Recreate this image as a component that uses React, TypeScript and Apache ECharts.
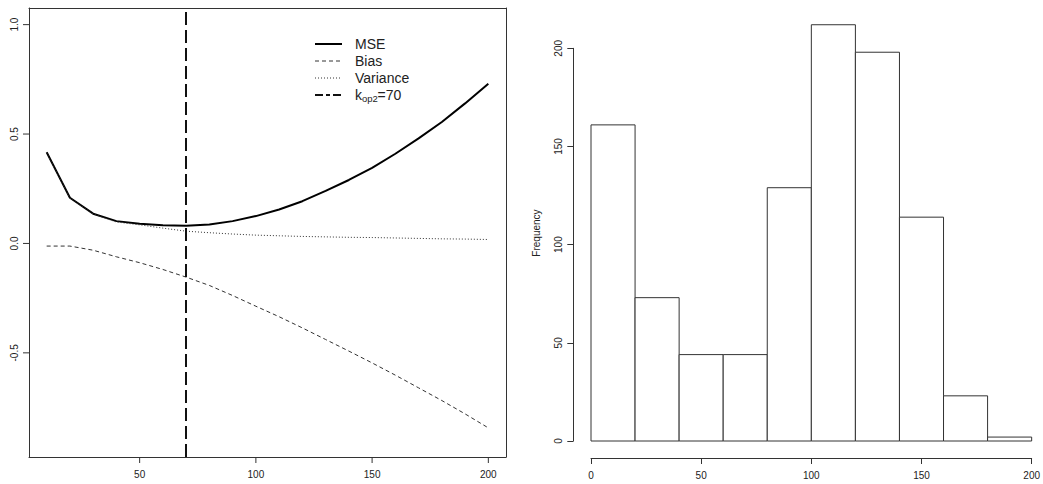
import React, { useEffect, useRef } from "react";
import * as echarts from "echarts";

const kValues = [10, 20, 30, 40, 50, 60, 70, 80, 90, 100, 110, 120, 130, 140, 150, 160, 170, 180, 190, 200];
const mseValues = [0.417, 0.209, 0.136, 0.102, 0.09, 0.083, 0.081, 0.087, 0.102, 0.125, 0.155, 0.193, 0.24, 0.29, 0.345, 0.41, 0.48, 0.555, 0.64, 0.73];
const biasValues = [-0.012, -0.012, -0.031, -0.061, -0.088, -0.119, -0.154, -0.192, -0.238, -0.287, -0.335, -0.386, -0.439, -0.492, -0.546, -0.602, -0.66, -0.718, -0.779, -0.843];
const varianceValues = [0.415, 0.207, 0.135, 0.098, 0.085, 0.07, 0.056, 0.049, 0.043, 0.038, 0.035, 0.032, 0.03, 0.028, 0.027, 0.025, 0.023, 0.021, 0.02, 0.018];
const kOpt = 70;

const leftXTicks = [50, 100, 150, 200];
const leftYTicks = [-0.5, 0, 0.5, 1];
const leftXRange = [2.4, 207.6];
const leftYRange = [-0.976, 1.076];

const binStarts = [0, 20, 40, 60, 80, 100, 120, 140, 160, 180];
const binEnds = [20, 40, 60, 80, 100, 120, 140, 160, 180, 200];
const binCounts = [161, 73, 44, 44, 129, 212, 198, 114, 23, 2];

const FONT = "Liberation Sans, Arial, Helvetica, sans-serif";
const INK = "#222";
const LINE = "#333";
const TICK_LEN = 6;

export default function App() {
  const ref = useRef<HTMLDivElement>(null);
  useEffect(() => {
    if (!ref.current) return;
    const chart = echarts.init(ref.current, null, { renderer: "svg" });
    const pairs = (ys: number[]) => kValues.map((k, i) => [k, ys[i]]);
    const histData = binStarts.map((s, i) => [s, binEnds[i], binCounts[i]]);
    const labelStyle = { color: INK, fontSize: 10, fontFamily: FONT };
    const legendY = [44, 61, 78, 95];
    const boxAxis = {
      axisLine: { show: true, onZero: false, lineStyle: { color: LINE, width: 1 } },
      axisTick: { show: false },
      axisLabel: { show: false },
      splitLine: { show: false },
    };
    const legendGraphics: any[] = [
      { id: "lg0", type: "line", shape: { x1: 315, y1: legendY[0], x2: 342, y2: legendY[0] }, style: { stroke: "#000", lineWidth: 2 } },
      { id: "lg1", type: "line", shape: { x1: 315, y1: legendY[1], x2: 342, y2: legendY[1] }, style: { stroke: LINE, lineWidth: 1, lineDash: [4, 3] } },
      { id: "lg2", type: "line", shape: { x1: 315, y1: legendY[2], x2: 342, y2: legendY[2] }, style: { stroke: LINE, lineWidth: 1, lineDash: [1, 2] } },
      { id: "lg3", type: "line", shape: { x1: 315, y1: legendY[3], x2: 342, y2: legendY[3] }, style: { stroke: "#111", lineWidth: 2, lineDash: [8, 3, 4, 3] } },
      { id: "lt0", type: "text", x: 355, y: legendY[0], style: { text: "MSE", fill: INK, fontSize: 14, fontFamily: FONT, verticalAlign: "middle", align: "left" } },
      { id: "lt1", type: "text", x: 355, y: legendY[1], style: { text: "Bias", fill: INK, fontSize: 14, fontFamily: FONT, verticalAlign: "middle", align: "left" } },
      { id: "lt2", type: "text", x: 355, y: legendY[2], style: { text: "Variance", fill: INK, fontSize: 14, fontFamily: FONT, verticalAlign: "middle", align: "left" } },
      { id: "lt3", type: "text", x: 355, y: legendY[3], style: { text: "k", fill: INK, fontSize: 14, fontFamily: FONT, verticalAlign: "middle", align: "left" } },
      { id: "lt4", type: "text", x: 362, y: legendY[3] + 3, style: { text: "op2", fill: INK, fontSize: 9.5, fontFamily: FONT, verticalAlign: "middle", align: "left" } },
      { id: "lt5", type: "text", x: 377.5, y: legendY[3], style: { text: "=70", fill: INK, fontSize: 14, fontFamily: FONT, verticalAlign: "middle", align: "left" } },
      { id: "freq", type: "text", x: 536, y: 233, rotation: Math.PI / 2, style: { text: "Frequency", fill: INK, fontSize: 10, fontFamily: FONT, verticalAlign: "middle", align: "center" } },
    ];
    chart.setOption({
      animation: false,
      backgroundColor: "#fff",
      grid: [
        { left: 29, right: 537, top: 8, bottom: 27, show: false },
        { left: 591, right: 11, top: 48.3, bottom: 43, show: false },
      ],
      xAxis: [
        {
          type: "value", gridIndex: 0, min: leftXRange[0], max: leftXRange[1], position: "bottom",
          axisLine: { show: true, onZero: false, lineStyle: { color: LINE, width: 1 } },
          axisTick: { show: false },
          axisLabel: { ...labelStyle, margin: 12, customValues: leftXTicks },
          splitLine: { show: false },
        },
        {
          type: "value", gridIndex: 1, min: 0, max: 200, interval: 50, offset: 17, position: "bottom",
          axisLine: { show: true, onZero: false, lineStyle: { color: LINE, width: 1 } },
          axisTick: { show: true, length: TICK_LEN, lineStyle: { color: LINE } },
          axisLabel: { ...labelStyle, margin: 12 },
          splitLine: { show: false },
        },
        { type: "value", gridIndex: 0, min: leftXRange[0], max: leftXRange[1], position: "top", ...boxAxis },
      ],
      yAxis: [
        {
          type: "value", gridIndex: 0, min: leftYRange[0], max: leftYRange[1], position: "left",
          axisLine: { show: true, onZero: false, lineStyle: { color: LINE, width: 1 } },
          axisTick: { show: false },
          axisLabel: { ...labelStyle, margin: 10, rotate: 90, customValues: leftYTicks, formatter: (v: number) => v.toFixed(1) },
          splitLine: { show: false },
        },
        {
          type: "value", gridIndex: 1, min: 0, max: 200, interval: 50, offset: 17.7, position: "left",
          axisLine: { show: true, onZero: false, lineStyle: { color: LINE, width: 1 } },
          axisTick: { show: true, length: TICK_LEN, lineStyle: { color: LINE } },
          axisLabel: { ...labelStyle, margin: 10, rotate: 90 },
          splitLine: { show: false },
        },
        { type: "value", gridIndex: 0, min: leftYRange[0], max: leftYRange[1], position: "right", ...boxAxis },
      ],
      series: [
        {
          name: "MSE", type: "line", xAxisIndex: 0, yAxisIndex: 0, data: pairs(mseValues),
          showSymbol: false, symbol: "none", lineStyle: { color: "#000", width: 2 }, silent: true,
          markLine: {
            silent: true, symbol: "none", label: { show: false },
            lineStyle: { color: "#111", width: 2, type: [13, 5] },
            data: [{ xAxis: kOpt }],
          },
        },
        {
          name: "Bias", type: "line", xAxisIndex: 0, yAxisIndex: 0, data: pairs(biasValues),
          showSymbol: false, symbol: "none", lineStyle: { color: LINE, width: 1, type: [4, 3] }, silent: true,
        },
        {
          name: "Variance", type: "line", xAxisIndex: 0, yAxisIndex: 0, data: pairs(varianceValues),
          showSymbol: false, symbol: "none", lineStyle: { color: LINE, width: 1, type: [1, 2] }, silent: true,
        },
        {
          name: "Frequency", type: "custom", xAxisIndex: 1, yAxisIndex: 1, data: histData, clip: false,
          encode: { x: [0, 1], y: 2 },
          renderItem: (params: any, api: any) => {
            const p0 = api.coord([api.value(0), 0]);
            const p1 = api.coord([api.value(1), api.value(2)]);
            return {
              type: "rect",
              shape: { x: p0[0], y: p1[1], width: p1[0] - p0[0], height: p0[1] - p1[1] },
              style: { fill: "#fff", stroke: LINE, lineWidth: 1 },
            };
          },
        },
      ],
      graphic: legendGraphics,
    });

    // Tick marks of the left plot, placed through the chart's own scales.
    const tickGraphics: any[] = [];
    leftXTicks.forEach((v, i) => {
      const p = chart.convertToPixel({ xAxisIndex: 0, yAxisIndex: 0 }, [v, leftYRange[0]]) as number[];
      if (p && isFinite(p[0]) && isFinite(p[1])) {
        tickGraphics.push({ id: "xt" + i, type: "line", z: 100, shape: { x1: p[0], y1: p[1], x2: p[0], y2: p[1] + TICK_LEN }, style: { stroke: LINE, lineWidth: 1 } });
      }
    });
    leftYTicks.forEach((v, i) => {
      const p = chart.convertToPixel({ xAxisIndex: 0, yAxisIndex: 0 }, [leftXRange[0], v]) as number[];
      if (p && isFinite(p[0]) && isFinite(p[1])) {
        tickGraphics.push({ id: "yt" + i, type: "line", z: 100, shape: { x1: p[0], y1: p[1], x2: p[0] - TICK_LEN, y2: p[1] }, style: { stroke: LINE, lineWidth: 1 } });
      }
    });
    chart.setOption({ graphic: [...legendGraphics, ...tickGraphics] });

    return () => chart.dispose();
  }, []);
  return <div ref={ref} style={{ width: 1043, height: 484, position: "absolute", left: 0, top: 0 }} />;
}
